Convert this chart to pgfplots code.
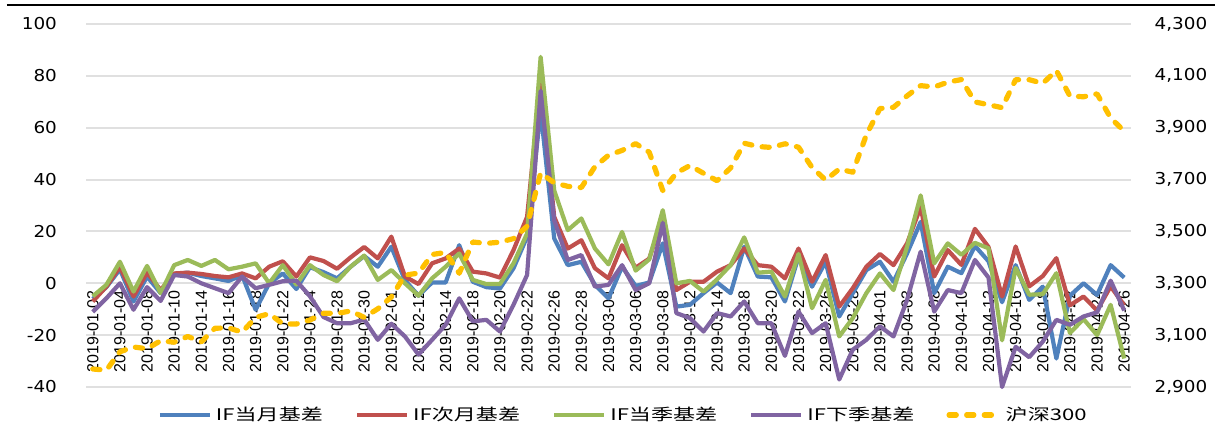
\documentclass[border=0pt]{standalone}
\usepackage{fontspec}
\setmainfont{DejaVu Sans}
\newfontfamily\tickfont{DejaVu Sans}[FakeStretch=1.12]
\newfontfamily\xfont{Liberation Sans}
\newfontfamily\legfont{Noto Sans CJK SC}[FakeStretch=1.38]
\usepackage{pgfplots}
\usepackage{pgfplotstable}
\pgfplotsset{compat=1.18}
\usetikzlibrary{calc}
\definecolor{cblue}{HTML}{4F81BD}
\definecolor{cred}{HTML}{C0504D}
\definecolor{cgreen}{HTML}{9BBB59}
\definecolor{cpurple}{HTML}{8064A2}
\definecolor{cyellow}{HTML}{FFC000}
\definecolor{cgrid}{HTML}{E0E0E0}

\pgfplotstableread{
i blue red green purple hs
0 -6 -7 -5 -11 2969.5
1 -1.5 -1.3 -0.6 -5.8 2964.8
2 5.4 6.4 8.3 0 3035.9
3 -7 -5.1 -3.2 -10.2 3054.3
4 2.6 4.1 6.7 -1.5 3047.7
5 -3.8 -2.6 -3.8 -6.8 3078.5
6 3.6 3.8 7 3.2 3072.7
7 4.1 4.1 9 2.6 3094.8
8 2.8 3.6 6.7 0 3074.2
9 1.9 2.8 9 -1.9 3126.6
10 0.9 2.3 5.4 -3.8 3128.1
11 3.1 3.8 6.4 2.6 3111.4
12 -10.2 1.9 7.7 -1.9 3168.2
13 0 6.4 0 -0.6 3182.9
14 3.8 8.5 7 0.8 3143.3
15 -2.2 2.6 -0.5 1 3143.1
16 6.2 10 7 -5 3158.4
17 4.3 8.6 3.2 -13 3184.5
18 1.9 5.6 0.8 -15.4 3183.7
19 6.4 10 6.4 -15.4 3193.3
20 10.5 14 10.7 -14 3168.6
21 6.4 9.6 1.3 -21.8 3201.6
22 14.1 18 5.1 -15.6 3247.4
23 1.2 2.6 0 -20.5 3331.4
24 -4.8 -0.3 -4.8 -27.5 3339.3
25 0.3 7.7 1.9 -21.8 3410.9
26 0.3 9.6 6.4 -16 3419.1
27 14.7 13.4 11.5 -5.8 3338.7
28 0.6 4.5 1.3 -14.7 3459.2
29 -1.5 3.8 -0.3 -14.1 3453.8
30 -2 2.2 -0.3 -18.6 3458.7
31 5.8 12.8 7.7 -8.3 3472.3
32 17.9 25.6 19.2 3.2 3520.1
33 66.6 78 87.3 74.2 3725.3
34 17.3 25.6 35.8 24.3 3687.6
35 7 13.4 20.5 9 3673.9
36 8.3 16.6 25 10.9 3669.4
37 -0.6 5.8 13.4 -1.3 3749.7
38 -5.8 1.9 7.3 -0.6 3794.0
39 6.4 14.7 19.8 7 3812.4
40 -1 6 4.9 -2.6 3838.6
41 0.3 9.5 9.2 0 3805.6
42 15.4 25.6 28.2 23.3 3657.6
43 -9 -2.6 0 -11.5 3725.2
44 -8.3 0.6 0.9 -13.4 3754.3
45 -3.8 0.6 -3.2 -18.6 3724.3
46 0.3 4.5 1.5 -11.5 3695.7
47 -3.8 7 7 -12.8 3745.0
48 14.1 13.4 17.7 -7 3840.2
49 2.6 7 4.1 -15.4 3827.7
50 2.3 6.4 4.5 -15.4 3823.9
51 -7 1.9 -5.1 -28 3838.1
52 10.2 13.4 11.3 -10.9 3824.9
53 -1.3 0.6 -9.6 -19.2 3746.6
54 8.3 10.9 1.3 -15.4 3698.2
55 -12.8 -9 -20.5 -37.1 3740.6
56 -3.8 -1.9 -13.4 -25.6 3728.4
57 5.1 6.4 -3.8 -21.8 3872.3
58 8.3 11.3 3.8 -16.6 3973.9
59 0.6 7 -2.6 -20.5 3978.8
60 11.5 15.4 14.1 -6.4 4022.8
61 23.7 29.4 33.9 12.2 4062.2
62 -3.8 2.6 7.7 -10.9 4057.2
63 6.4 12.8 15.4 -2.6 4075.5
64 3.9 7.1 11 -3.8 4085.8
65 14.4 21 15.6 9 3999.5
66 8.5 14 13.5 2.2 3988.6
67 -7.3 -5.1 -22 -40 3977.3
68 7 14.2 5.9 -24.5 4085.3
69 -6.4 -1.2 -4.4 -28.5 4085.2
70 -1.3 2.8 -4.2 -22.5 4071.2
71 -29 9.7 3.9 -14.1 4120.6
72 -4.8 -8.5 -19.2 -16 4022.0
73 0 -5.1 -13.8 -12.8 4019.4
74 -4.5 -10.5 -20 -11.2 4030.4
75 7 -1.2 -8.3 1 3937.6
76 2.2 -8.5 -29 -10.5 3886.6
}\datatable

\pgfplotsset{
  common/.style={
    scale only axis,
    width=522.5pt, height=181.5pt,
    xmin=-0.5, xmax=76.5,
    clip=false,
    axis line style={draw=none},
    tick style={draw=none},
    /pgf/number format/assume math mode=true,
  },
  bline/.style={line width=2.1pt, line join=round},
}

\begin{document}
\begin{tikzpicture}
\begin{axis}[common,
  name=ax,
  ymin=-40, ymax=100,
  ytick={-40,-20,0,20,40,60,80,100},
  ymajorgrids,
  grid style={draw=cgrid, line width=1pt},
  yticklabel style={font=\tickfont\fontsize{8.2}{10}\selectfont, xshift=-11pt},
  xtick={0,2,...,76},
  xticklabels={2019-01-02,2019-01-04,2019-01-08,2019-01-10,2019-01-14,2019-01-16,2019-01-18,2019-01-22,2019-01-24,2019-01-28,2019-01-30,2019-02-01,2019-02-12,2019-02-14,2019-02-18,2019-02-20,2019-02-22,2019-02-26,2019-02-28,2019-03-04,2019-03-06,2019-03-08,2019-03-12,2019-03-14,2019-03-18,2019-03-20,2019-03-22,2019-03-26,2019-03-28,2019-04-01,2019-04-03,2019-04-08,2019-04-10,2019-04-12,2019-04-16,2019-04-18,2019-04-22,2019-04-24,2019-04-26},
  xticklabel style={font=\xfont\fontsize{8}{9}\selectfont, rotate=90, anchor=east},
  xticklabel shift=-51.9pt,
]
\addplot[bline, cblue] table[x=i, y=blue] {\datatable};
\addplot[bline, cred] table[x=i, y=red] {\datatable};
\addplot[bline, cgreen] table[x=i, y=green] {\datatable};
\addplot[bline, cpurple] table[x=i, y=purple] {\datatable};
\end{axis}
\begin{axis}[common,
  ymin=2900, ymax=4300,
  ytick={2900,3100,3300,3500,3700,3900,4100,4300},
  axis y line*=right,
  axis x line=none,
  yticklabel style={font=\tickfont\fontsize{8.2}{10}\selectfont, xshift=8.3pt},
  legend columns=5,
  legend style={draw=none, fill=none, at={(0.515,-0.077)}, anchor=center,
    font=\legfont\fontsize{8}{10}\selectfont,
    /tikz/every even column/.append style={column sep=14pt}},
  legend image code/.code={\draw[#1] (0pt,0pt) -- (25pt,0pt);},
]
\addlegendimage{bline, cblue}
\addlegendentry{IF当月基差}
\addlegendimage{bline, cred}
\addlegendentry{IF次月基差}
\addlegendimage{bline, cgreen}
\addlegendentry{IF当季基差}
\addlegendimage{bline, cpurple}
\addlegendentry{IF下季基差}
\addplot[cyellow, line width=2.6pt, line cap=round, line join=round, dash pattern=on 3.6pt off 5.2pt] table[x=i, y=hs] {\datatable};
\addlegendentry{沪深300}
\end{axis}
\draw[line width=1pt] ($(ax.north west)+(-39.5pt,9.5pt)$) -- ($(ax.north east)+(42pt,9.5pt)$);
\pgfresetboundingbox
\path[use as bounding box] ($(ax.south west)+(-43pt,-26pt)$) rectangle ($(ax.north east)+(42pt,12pt)$);
\end{tikzpicture}
\end{document}
